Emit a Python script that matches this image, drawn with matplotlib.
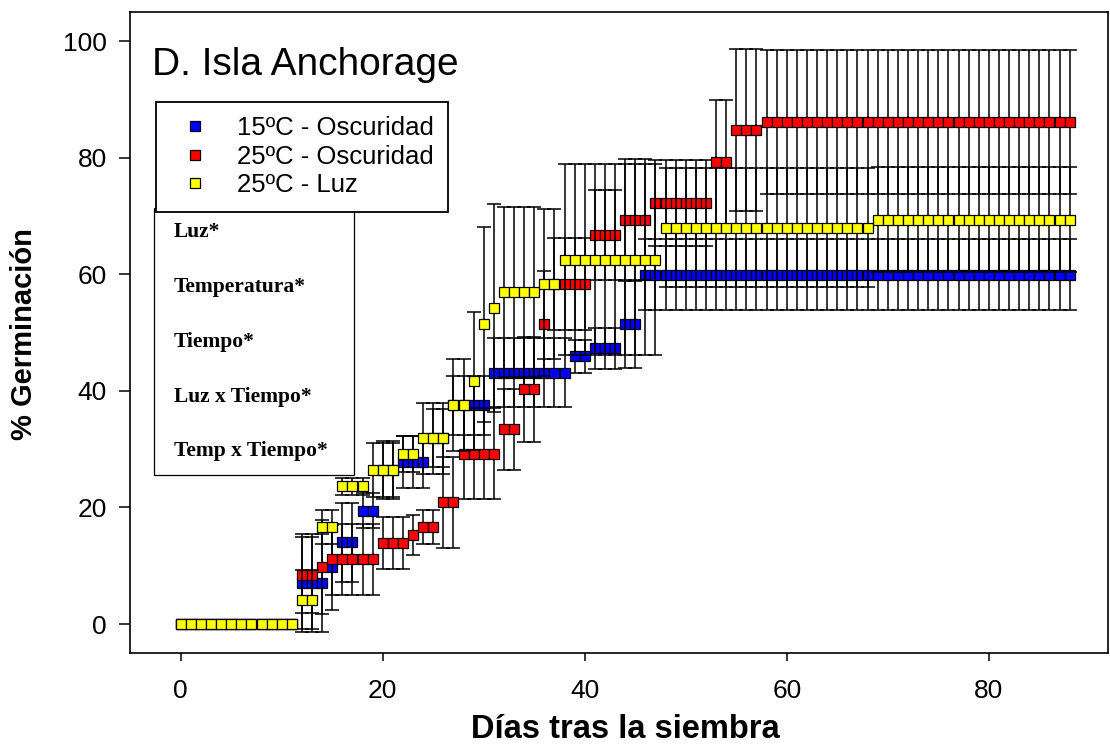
import numpy as np
import matplotlib.pyplot as plt
from matplotlib.lines import Line2D
from matplotlib.patches import Rectangle

plt.rcParams['font.family'] = ['Liberation Sans', 'DejaVu Sans']

# dias tras la siembra: un registro por dia (0-88)
dias = np.arange(0, 89)

# curvas escalonadas: valor de cada escalon, su error y cuantos dias dura
osc15_media = [0, 7.0, 9.7, 14.0, 19.4, 26.4, 27.8, 31.9, 37.5, 43.1, 45.9, 47.3, 51.4, 59.9]
osc15_error = [0, 8.4, 7.3, 6.8, 3.0, 5.0, 4.5, 5.0, 5.0, 5.9, 2.9, 3.5, 7.4, 6.1]
osc15_dias = [12, 3, 1, 2, 2, 2, 3, 2, 4, 8, 2, 3, 2, 43]

osc25_media = [0, 8.4, 9.8, 11.1, 13.9, 15.3, 16.7, 20.9, 29.2, 33.4, 40.3, 51.5,
               58.3, 66.7, 69.4, 72.2, 79.2, 84.7, 86.1]
osc25_error = [0, 6.5, 8.0, 6.1, 4.5, 3.4, 2.9, 7.8, 7.8, 7.0, 9.0, 9.0,
               7.9, 7.7, 10.4, 7.4, 10.7, 13.9, 12.3]
osc25_dias = [12, 2, 1, 5, 3, 1, 2, 2, 4, 2, 2, 1, 4, 3, 3, 6, 2, 3, 31]

luz25_media = [0, 4.2, 16.7, 23.6, 26.4, 29.2, 31.9, 37.5, 41.7, 51.4, 54.2, 56.9,
               58.3, 62.5, 68.0, 69.4]
luz25_error = [0, 5.0, 2.9, 1.4, 4.6, 3.1, 6.1, 7.9, 11.8, 16.8, 17.8, 14.6,
               12.9, 16.4, 10.2, 9.0]
luz25_dias = [12, 2, 2, 3, 3, 2, 3, 2, 1, 1, 1, 4, 2, 10, 21, 20]

series = [
    ('15ºC - Oscuridad', '#0000ff', osc15_media, osc15_error, osc15_dias),
    ('25ºC - Oscuridad', '#ff0000', osc25_media, osc25_error, osc25_dias),
    ('25ºC - Luz', '#ffff00', luz25_media, luz25_error, luz25_dias),
]

efectos = ['Luz*', 'Temperatura*', 'Tiempo*', 'Luz x Tiempo*', 'Temp x Tiempo*']

fig = plt.figure(figsize=(11.1, 7.46), dpi=100)
ax = fig.add_axes([0.1171, 0.1247, 0.8811, 0.8592])

handles = []
for i, (nombre, color, media, error, n) in enumerate(series):
    y = np.repeat(media, n)
    e = np.repeat(error, n)
    z = 2 + i
    m = e > 0
    ax.errorbar(dias[m], y[m], yerr=e[m], fmt='none', ecolor='black',
                elinewidth=1.1, capsize=5, capthick=1.1, zorder=z - 0.1)
    ax.plot(dias, y, 's', ls='none', ms=7.4, mfc=color, mec='black', mew=0.9, zorder=z)
    handles.append(Line2D([], [], ls='none', marker='s', ms=7.4, mfc=color,
                          mec='black', mew=0.9))

ax.set_xlim(-5.02, 91.8)
ax.set_ylim(-4.97, 105.0)
ax.set_xticks([0, 20, 40, 60, 80])
ax.set_yticks([0, 20, 40, 60, 80, 100])
ax.tick_params(axis='x', direction='out', length=5.8, width=1.1, pad=13, labelsize=19)
ax.tick_params(axis='y', direction='out', length=7.7, width=1.1, pad=9, labelsize=19)
for s in ax.spines.values():
    s.set_linewidth(1.2)

ax.set_xlabel('Días tras la siembra', fontsize=23.5, fontweight='bold', va='baseline')
ax.xaxis.set_label_coords(0.506, -0.1326)
ax.set_ylabel('% Germinación', fontsize=21, fontweight='bold', va='center')
ax.yaxis.set_label_coords(-0.1079, 0.4977)

ax.text(0.0225, 0.9017, 'D. Isla Anchorage', fontsize=28, va='baseline',
        transform=ax.transAxes)

# cuadro con los efectos significativos
ax.add_patch(Rectangle((0.0242, 0.2783), 0.2048, 0.4159, transform=ax.transAxes,
                       facecolor='white', edgecolor='black', lw=0.9, zorder=5))
for k, txt in enumerate(efectos):
    ax.text(0.0445, 0.6568 - k * 0.0856, txt, transform=ax.transAxes,
            family='Liberation Serif', fontweight='bold', fontsize=15.5,
            va='center', zorder=6)

leg = ax.legend(handles, [s[0] for s in series], loc='upper left',
                bbox_to_anchor=(0.0263, 0.8596), borderaxespad=0, fancybox=False,
                edgecolor='black', framealpha=1, prop={'size': 18.5},
                handlelength=1.95, handletextpad=0.65, borderpad=0.55,
                labelspacing=0.18)
leg.get_frame().set_linewidth(1.3)
leg.set_zorder(7)

fig.savefig('out.png', dpi=100)
